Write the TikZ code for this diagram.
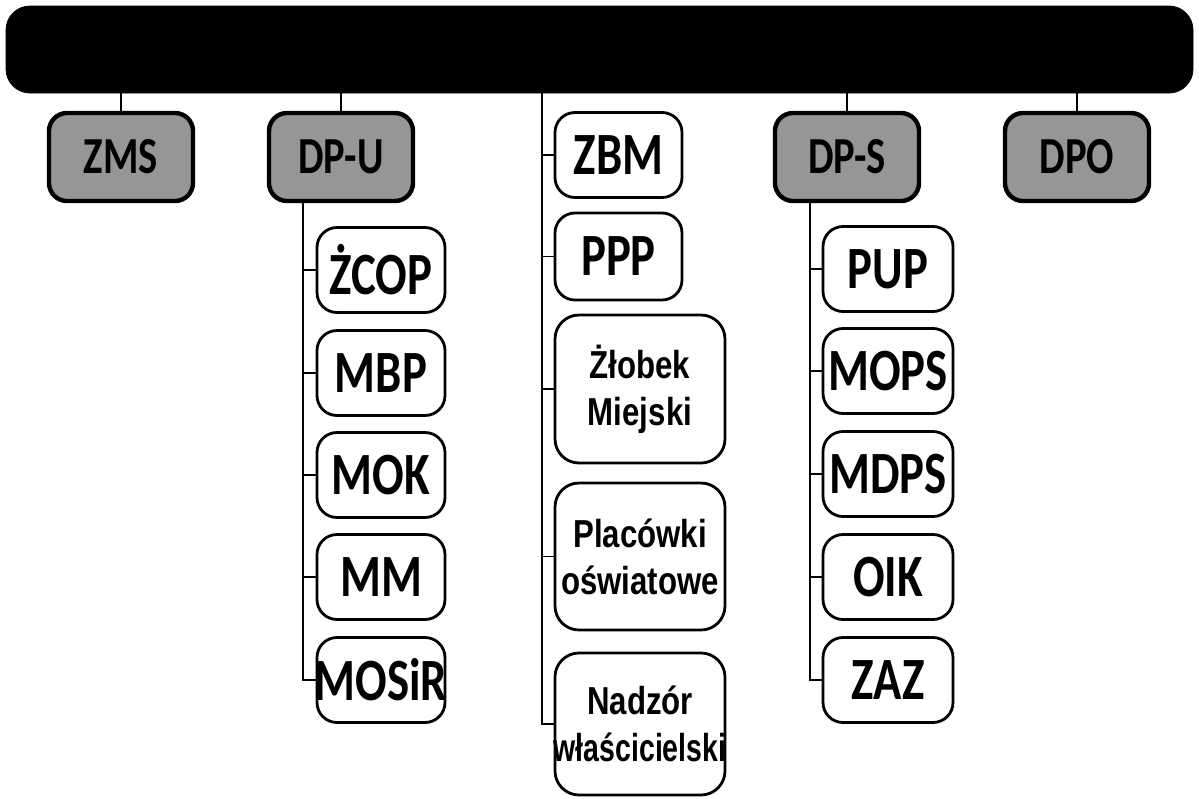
\documentclass[tikz,border=0pt]{standalone}
\usepackage{fontspec}
\setmainfont{Liberation Sans}
\newfontfamily\acrofont[FakeStretch=0.78]{Carlito}
\newfontfamily\narrowfont[FakeStretch=0.8]{Liberation Sans}
\newfontfamily\narrowerfont[FakeStretch=0.73]{Liberation Sans}
\usetikzlibrary{positioning}
\definecolor{headgray}{RGB}{150,150,150}
\tikzset{orgchart/.style={x=0.5pt,y=-0.5pt},
  mayorbar/.style={fill=black,draw=black,rounded corners=12pt,minimum width=593.5pt,minimum height=43.5pt,inner sep=0pt},
  deputy/.style={fill=headgray,draw=black,line width=2.2pt,rounded corners=9pt,minimum width=72pt,minimum height=44pt,inner sep=0pt,
    font=\acrofont\bfseries\fontsize{26}{28}\selectfont},
  unit/.style={draw=black,line width=1.4pt,rounded corners=10pt,minimum height=42.5pt,inner sep=0pt,
    font=\acrofont\bfseries\fontsize{30}{32}\selectfont},
  longunit/.style={draw=black,line width=1.4pt,rounded corners=12pt,minimum width=85pt,inner sep=0pt,align=center,
    font=\narrowfont\bfseries\fontsize{19.5}{23.5}\selectfont},
  link/.style={line width=0.9pt}}

\begin{document}
\begin{tikzpicture}[orgchart]
    \useasboundingbox (0,0) rectangle (1199,798);
    \node[mayorbar] (mayor) at (599.5,49.5) {};
    % deputies
    \node[deputy] (zms) at (121,157) {ZMS};
    \node[deputy] (dpu) at (341,157) {DP-U};
    \node[deputy] (dps) at (847,157) {DP-S};
    \node[deputy] (dpo) at (1077,157) {DPO};
    \foreach \d in {zms,dpu,dps,dpo} \draw[link] (mayor.south -| \d.north) -- (\d.north);
    % left column
    \node[unit,minimum width=64pt] (zcop)  at (381,270) {ŻCOP};
    \node[unit,minimum width=64pt] (mbp)   at (381,373) {MBP};
    \node[unit,minimum width=64pt] (mok)   at (381,475) {MOK};
    \node[unit,minimum width=64pt] (mm)    at (381,577) {MM};
    \node[unit,minimum width=64pt] (mosir) at (381,680) {\makebox[0pt]{MOSiR}};
    \coordinate (uroot) at (303,201);
    \foreach \b in {zcop,mbp,mok,mm,mosir} \draw[link] (uroot) |- (\b.west);
    % centre column
    \node[unit,minimum width=63.5pt] (zbm) at (618.5,155) {ZBM};
    \node[unit,minimum width=63.5pt,minimum height=43.5pt] (ppp) at (618.5,256.5) {PPP};
    \node[longunit,minimum height=74pt] (zlobek)   at (640,389)   {Żłobek\\Miejski};
    \node[longunit,minimum height=73.5pt] (placowki) at (640,556.5) {Placówki\\oświatowe};
    \node[longunit,minimum height=71pt] (nadzor)   at (640,724)   {Nadzór\\\makebox[0pt]{\narrowerfont właścicielski}};
    \coordinate (croot) at (mayor.south -| 542,0);
    \foreach \b in {zbm,ppp,zlobek,placowki,nadzor} \draw[link] (croot) |- (\b.west);
    % right column
    \node[unit,minimum width=65pt] (pup)  at (888,269) {PUP};
    \node[unit,minimum width=65pt] (mops) at (888,371) {MOPS};
    \node[unit,minimum width=65pt] (mdps) at (888,474) {MDPS};
    \node[unit,minimum width=65pt] (oik)  at (888,577) {OIK};
    \node[unit,minimum width=65pt] (zaz)  at (888,680) {ZAZ};
    \coordinate (sroot) at (810,201);
    \foreach \b in {pup,mops,mdps,oik,zaz} \draw[link] (sroot) |- (\b.west);
\end{tikzpicture}
\end{document}
